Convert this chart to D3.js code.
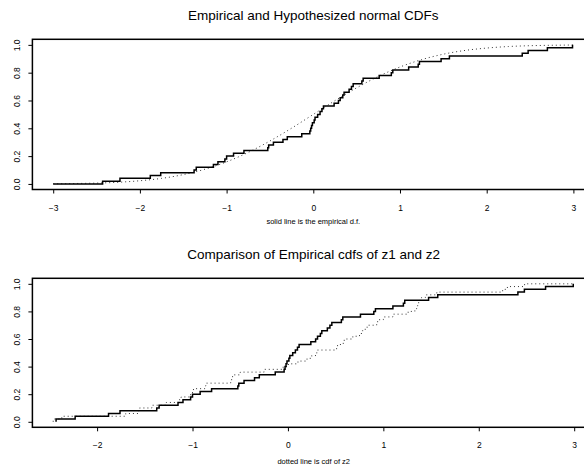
<!DOCTYPE html>
<head>
  <meta charset="utf-8">
  <script src="https://d3js.org/d3.v7.min.js"></script>
  <style>
    body { margin: 0; background: #fff; }
    text { font-family: "Liberation Sans", Arial, sans-serif; fill: #000; }
  </style>
</head>
<body>
  <script>
    // sample z1 (50 obs)
    var z1 = [-2.43, -2.23, -1.88, -1.76, -1.375, -1.35, -1.152, -1.10, -1.02, -1.00,
      -0.92, -0.80, -0.525, -0.515, -0.46, -0.35, -0.30, -0.133, -0.04, -0.03,
      -0.02, -0.01, 0.01, 0.02, 0.05, 0.078, 0.10, 0.117, 0.24, 0.29,
      0.31, 0.34, 0.355, 0.413, 0.44, 0.46, 0.56, 0.575, 0.76, 0.90,
      0.917, 1.10, 1.21, 1.224, 1.474, 1.57, 2.41, 2.478, 2.70, 2.99];

    // sample z2 (50 obs)
    var z2 = [-2.46, -2.37, -1.70, -1.57, -1.555, -1.425, -1.275, -1.14, -1.12, -1.02,
      -1.00, -0.99, -0.87, -0.86, -0.60, -0.59, -0.58, -0.50, -0.25, -0.05,
      0.005, 0.105, 0.20, 0.25, 0.30, 0.31, 0.51, 0.52, 0.58, 0.59,
      0.68, 0.75, 0.78, 0.81, 0.83, 0.93, 0.94, 1.00, 1.10, 1.26,
      1.33, 1.35, 1.36, 1.37, 1.40, 1.44, 1.56, 2.25, 2.30, 2.48];

    // hypothesized normal cdf, read at these x
    var normX = [-3, -2.75, -2.5, -2.25, -2, -1.75, -1.5, -1.25, -1, -0.75, -0.5, -0.25, 0,
      0.25, 0.5, 0.75, 1, 1.25, 1.5, 1.75, 2, 2.25, 2.5, 2.75, 3];
    var normP = [0.001, 0.003, 0.006, 0.012, 0.023, 0.040, 0.067, 0.106, 0.159, 0.227, 0.309, 0.401, 0.5,
      0.599, 0.691, 0.773, 0.841, 0.894, 0.933, 0.960, 0.977, 0.988, 0.994, 0.997, 0.999];

    var xTicksTop = [-3, -2, -1, 0, 1, 2, 3];
    var xTicksBottom = [-2, -1, 0, 1, 2, 3];
    var yTicks = [0, 0.2, 0.4, 0.6, 0.8, 1.0];

    var width = 584, height = 472;

    var svg = d3.select("body").append("svg")
      .attr("width", width)
      .attr("height", height);

    // turn a sample into step points
    function ecdf(z, start, end) {
      var s = z.slice().sort(d3.ascending);
      var n = s.length;
      var pts = [[start, 0]];
      s.forEach(function(v, i) { pts.push([v, (i + 1) / n]); });
      if (end > s[n - 1]) pts.push([end, 1]);
      return pts;
    }

    function panel(p) {
      var g = svg.append("g");
      var x = d3.scaleLinear().domain(p.xDomain).range([p.left, p.right]);
      var y = d3.scaleLinear().domain([-0.04, 1.04]).range([p.bottom, p.top]);

      g.append("rect")
        .attr("x", p.left).attr("y", p.top)
        .attr("width", p.right - p.left).attr("height", p.bottom - p.top)
        .attr("fill", "none").attr("stroke", "#000").attr("stroke-width", 1.5);

      var xAxis = d3.axisBottom(x).tickValues(p.xTicks).tickSize(4).tickPadding(11)
        .tickFormat(d3.format("d"));
      var gx = g.append("g").attr("transform", "translate(0," + p.bottom + ")").call(xAxis);
      gx.select(".domain").remove();
      gx.selectAll("text").attr("font-size", 8.5).attr("font-family", null);

      var yAxis = d3.axisLeft(y).tickValues(yTicks).tickSize(4).tickFormat(d3.format(".1f"));
      var gy = g.append("g").attr("transform", "translate(" + p.left + ",0)").call(yAxis);
      gy.select(".domain").remove();
      gy.selectAll("text").remove();
      gy.selectAll(".tick").append("text")
        .attr("transform", "translate(-12,0) rotate(-90)")
        .attr("text-anchor", "middle")
        .attr("font-size", 8.5)
        .text(function(d) { return d3.format(".1f")(d); });

      var line = d3.line().x(function(d) { return x(d[0]); }).y(function(d) { return y(d[1]); });

      p.lines.forEach(function(l) {
        g.append("path")
          .datum(l.pts)
          .attr("fill", "none")
          .attr("stroke", l.dotted ? "#333" : "#000")
          .attr("stroke-width", l.dotted ? 1 : 1.5)
          .attr("stroke-dasharray", l.dotted ? "1,3" : null)
          .attr("d", line.curve(l.curve)(l.pts));
      });

      var cx = (p.left + p.right) / 2;
      g.append("text").attr("x", cx).attr("y", p.top - 19)
        .attr("text-anchor", "middle").attr("font-size", 13.5).text(p.title);
      g.append("text").attr("x", cx).attr("y", p.bottom + p.subOffset)
        .attr("text-anchor", "middle").attr("font-size", 7.5).text(p.sub);
    }

    panel({
      left: 32.4, right: 594.2, top: 39.3, bottom: 189.5, subOffset: 34,
      xDomain: [-3.24, 3.24], xTicks: xTicksTop,
      title: "Empirical and Hypothesized normal CDFs",
      sub: "solid line is the empirical d.f.",
      lines: [
        { pts: normX.map(function(v, i) { return [v, normP[i]]; }), dotted: true, curve: d3.curveMonotoneX },
        { pts: ecdf(z1, -3, 2.99), dotted: false, curve: d3.curveStepAfter }
      ]
    });

    panel({
      left: 32.4, right: 595, top: 278.3, bottom: 427.3, subOffset: 37,
      xDomain: [-2.678, 3.218], xTicks: xTicksBottom,
      title: "Comparison of Empirical cdfs of z1 and z2",
      sub: "dotted line is cdf of z2",
      lines: [
        { pts: ecdf(z2, -2.46, 2.99), dotted: true, curve: d3.curveStepAfter },
        { pts: ecdf(z1, -2.43, 2.99), dotted: false, curve: d3.curveStepAfter }
      ]
    });
  </script>
</body>
